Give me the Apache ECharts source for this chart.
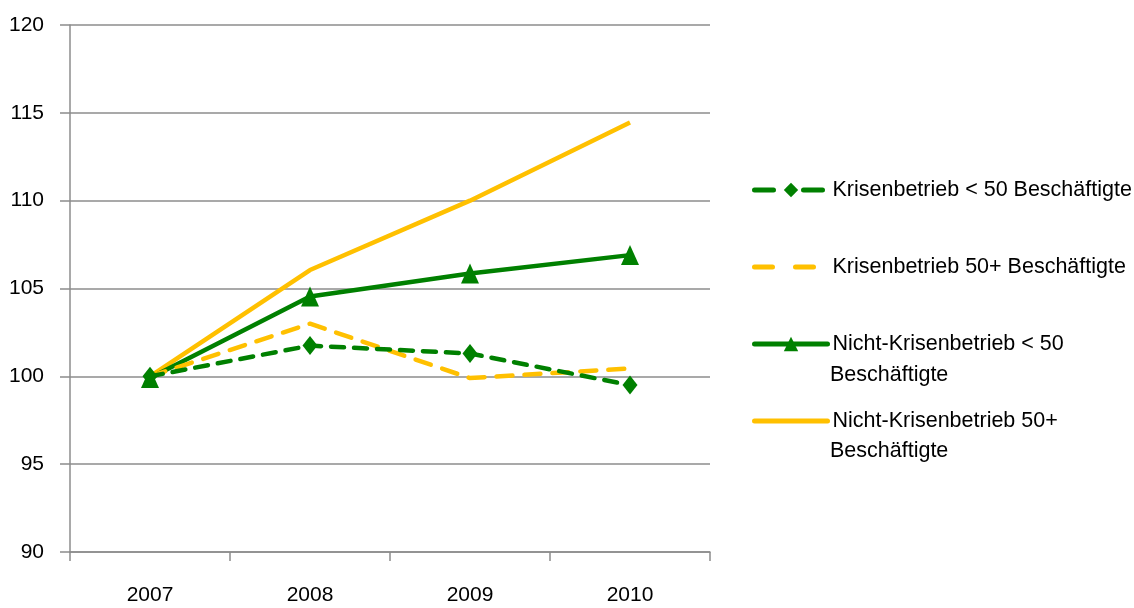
<!DOCTYPE html>
<html><head><meta charset="utf-8">
<script src="https://cdn.jsdelivr.net/npm/echarts@6/dist/echarts.min.js"></script>
<style>html,body{margin:0;padding:0;background:#fff}#c{width:1134px;height:608px}</style>
</head><body><div id="c"></div>
<script>
const categories = ['2007', '2008', '2009', '2010'];
const krisenKlein = [100, 101.75, 101.3, 99.5];
const krisenGross = [100, 103.0, 99.9, 100.45];
const nichtKrisenKlein = [99.9, 104.55, 105.85, 106.9];
const nichtKrisenGross = [100, 106.05, 110.0, 114.45];
const seriesNames = ['Krisenbetrieb < 50 Beschäftigte', 'Krisenbetrieb 50+ Beschäftigte', 'Nicht-Krisenbetrieb < 50', 'Nicht-Krisenbetrieb 50+'];
const yTicks = [90, 95, 100, 105, 110, 115, 120];

const GREEN = '#008000', YELLOW = '#FFC000';
const font = '"Liberation Sans", Arial, sans-serif';
const FS = 21, LFS = 21.5;
const chart = echarts.init(document.getElementById('c'));
function legendAt(name, top, hideSymbol, dash) {
  return {
    data: [hideSymbol ? { name: name, itemStyle: { opacity: 0 } } : name],
    left: 747, top: top, orient: 'vertical',
    itemWidth: 73, itemHeight: 18,
    lineStyle: { width: 5, cap: 'round', type: dash || 'solid' },
    textStyle: { fontFamily: font, fontSize: LFS, color: '#000' },
    selectedMode: false
  };
}
chart.setOption({
  animation: false,
  grid: { left: 70, right: 424, top: 25, bottom: 56 },
  xAxis: {
    type: 'category', data: categories, boundaryGap: true,
    axisLine: { lineStyle: { color: '#8c8c8c', width: 1.5 } },
    axisTick: { show: true, length: 9, lineStyle: { color: '#8c8c8c', width: 1.5 } },
    axisLabel: { fontFamily: font, fontSize: FS, color: '#000', margin: 33 }
  },
  yAxis: {
    type: 'value', min: yTicks[0], max: yTicks[yTicks.length - 1], interval: 5,
    axisLine: { show: true, lineStyle: { color: '#8c8c8c', width: 1.5 } },
    axisTick: { show: true, length: 10, lineStyle: { color: '#8c8c8c', width: 1.5 } },
    splitLine: { lineStyle: { color: '#8c8c8c', width: 1.5 } },
    axisLabel: { fontFamily: font, fontSize: FS, color: '#000', margin: 26 }
  },
  legend: [
    legendAt(seriesNames[0], 174, false, [19, 30]),
    legendAt(seriesNames[1], 251, true, [18, 23]),
    legendAt(seriesNames[2], 328, false),
    legendAt(seriesNames[3], 405, true)
  ],
  graphic: [
    { type: 'text', left: 830, top: 364, style: { text: 'Beschäftigte', font: LFS + 'px ' + font, fill: '#000' } },
    { type: 'text', left: 830, top: 440, style: { text: 'Beschäftigte', font: LFS + 'px ' + font, fill: '#000' } }
  ],
  series: [
    { name: seriesNames[3], type: 'line', data: nichtKrisenGross, showSymbol: false, symbol: 'none',
      lineStyle: { color: YELLOW, width: 4.5 }, itemStyle: { color: YELLOW }, z: 2 },
    { name: seriesNames[2], type: 'line', data: nichtKrisenKlein, symbol: 'triangle', symbolSize: [18, 20],
      lineStyle: { color: GREEN, width: 4.5 }, itemStyle: { color: GREEN }, z: 3 },
    { name: seriesNames[1], type: 'line', data: krisenGross, showSymbol: false, symbol: 'none',
      lineStyle: { color: YELLOW, width: 4.5, type: [16, 12], cap: 'round' }, itemStyle: { color: YELLOW }, z: 4 },
    { name: seriesNames[0], type: 'line', data: krisenKlein, symbol: 'diamond', symbolSize: [15, 19],
      lineStyle: { color: GREEN, width: 4.5, type: [13, 10], cap: 'round' }, itemStyle: { color: GREEN }, z: 5 }
  ]
});
</script></body></html>
